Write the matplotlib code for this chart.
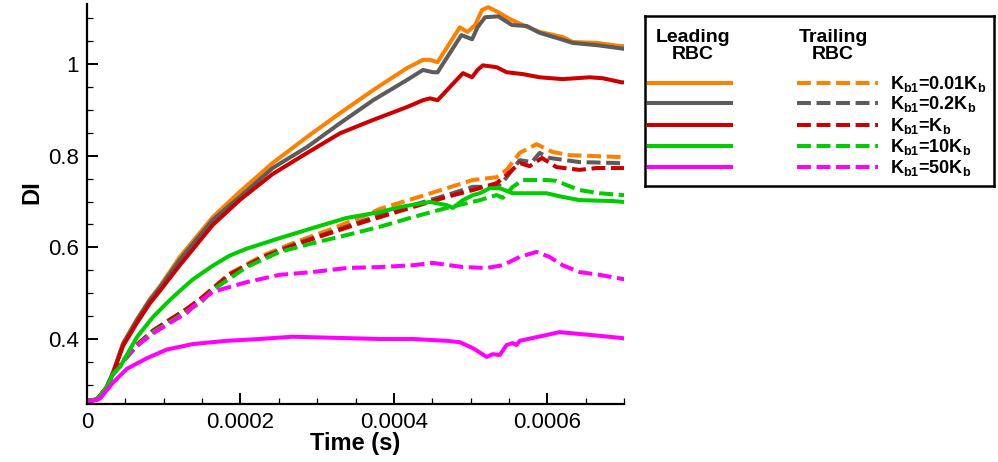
import numpy as np
import matplotlib
matplotlib.use("Agg")
import matplotlib.pyplot as plt
from matplotlib.ticker import FixedLocator, MultipleLocator, FuncFormatter

plt.rcParams['font.family'] = ['Liberation Sans', 'DejaVu Sans']
plt.rcParams['mathtext.fontset'] = 'custom'
plt.rcParams['mathtext.rm'] = 'Liberation Sans'
plt.rcParams['mathtext.bf'] = 'Liberation Sans:bold'

# time in units of 1e-4 s, deformation index DI
# ---- leading RBC (solid) ----
t_lead_001 = [0, 0.13, 0.26, 0.34, 0.47, 0.65, 0.82, 0.95, 1.21, 1.64, 1.99, 2.42, 2.87, 3.30,
              3.73, 4.17, 4.38, 4.47, 4.57, 4.86, 4.96, 5.06, 5.15, 5.23, 5.36, 5.49, 5.68,
              5.90, 6.20, 6.33, 6.65, 6.95, 7.0]
di_lead_001 = [0.265, 0.268, 0.295, 0.328, 0.391, 0.443, 0.487, 0.515, 0.579, 0.666, 0.721, 0.784,
               0.841, 0.893, 0.943, 0.991, 1.009, 1.009, 1.004, 1.080, 1.070, 1.085, 1.118, 1.124,
               1.113, 1.100, 1.085, 1.070, 1.059, 1.048, 1.046, 1.039, 1.039]

t_lead_02 = [0, 0.13, 0.26, 0.34, 0.47, 0.65, 0.82, 0.95, 1.21, 1.64, 1.99, 2.42, 2.87, 3.30,
             3.73, 4.17, 4.38, 4.51, 4.57, 4.88, 5.02, 5.09, 5.19, 5.36, 5.54, 5.73, 5.90,
             6.20, 6.33, 6.65, 6.92, 7.0]
di_lead_02 = [0.265, 0.268, 0.295, 0.327, 0.389, 0.441, 0.485, 0.512, 0.573, 0.660, 0.710, 0.773,
              0.819, 0.871, 0.921, 0.965, 0.987, 0.982, 0.982, 1.063, 1.054, 1.080, 1.102, 1.104,
              1.085, 1.083, 1.068, 1.053, 1.046, 1.041, 1.035, 1.033]

t_lead_1 = [0, 0.13, 0.26, 0.34, 0.47, 0.65, 0.82, 0.95, 1.21, 1.64, 1.99, 2.42, 2.87, 3.30,
            3.73, 4.17, 4.38, 4.47, 4.57, 4.90, 5.02, 5.09, 5.16, 5.34, 5.47, 5.68, 5.90,
            6.20, 6.55, 6.72, 6.97, 7.0]
di_lead_1 = [0.265, 0.268, 0.295, 0.325, 0.385, 0.435, 0.478, 0.505, 0.561, 0.649, 0.703, 0.760,
             0.806, 0.849, 0.878, 0.906, 0.921, 0.925, 0.921, 0.980, 0.971, 0.987, 0.997, 0.993,
             0.982, 0.978, 0.971, 0.967, 0.971, 0.969, 0.960, 0.960]

t_lead_10 = [0, 0.13, 0.26, 0.34, 0.43, 0.65, 0.86, 1.08, 1.21, 1.38, 1.64, 1.86, 2.08, 2.51,
             2.94, 3.38, 3.82, 4.08, 4.47, 4.69, 4.77, 4.90, 5.03, 5.12, 5.25, 5.38, 5.55,
             5.77, 5.99, 6.20, 6.42, 6.85, 7.0]
di_lead_10 = [0.265, 0.268, 0.295, 0.324, 0.339, 0.404, 0.448, 0.485, 0.505, 0.530, 0.560, 0.582,
              0.597, 0.620, 0.642, 0.664, 0.677, 0.688, 0.699, 0.692, 0.686, 0.703, 0.714, 0.718,
              0.729, 0.729, 0.718, 0.718, 0.718, 0.710, 0.703, 0.701, 0.699]

t_lead_50 = [0, 0.08, 0.17, 0.34, 0.52, 0.78, 1.04, 1.38, 1.82, 2.25, 2.68, 3.13, 3.82, 4.25,
             4.69, 4.86, 5.03, 5.21, 5.29, 5.38, 5.47, 5.55, 5.60, 5.64, 5.86, 6.16, 6.42,
             6.68, 6.98, 7.0]
di_lead_50 = [0.265, 0.265, 0.270, 0.305, 0.335, 0.358, 0.377, 0.389, 0.396, 0.400, 0.405, 0.403,
              0.400, 0.400, 0.396, 0.393, 0.380, 0.361, 0.367, 0.365, 0.387, 0.391, 0.387, 0.396,
              0.404, 0.415, 0.411, 0.407, 0.402, 0.401]

# ---- trailing RBC (dashed) ----
t_trail_001 = [0, 0.13, 0.26, 0.34, 0.43, 0.65, 0.86, 1.08, 1.30, 1.50, 1.86, 2.29, 2.74, 3.17,
               3.60, 3.82, 4.25, 4.69, 5.03, 5.34, 5.47, 5.64, 5.86, 6.07, 6.29, 6.64, 6.94, 7.0]
di_trail_001 = [0.265, 0.268, 0.295, 0.326, 0.345, 0.387, 0.418, 0.442, 0.466, 0.491, 0.543, 0.582,
                0.613, 0.639, 0.668, 0.684, 0.706, 0.729, 0.747, 0.753, 0.769, 0.806, 0.825, 0.808,
                0.801, 0.799, 0.797, 0.796]

t_trail_02 = [0, 0.13, 0.26, 0.34, 0.43, 0.65, 0.86, 1.08, 1.30, 1.50, 1.86, 2.29, 2.74, 3.17,
              3.60, 3.82, 4.25, 4.69, 5.03, 5.34, 5.42, 5.64, 5.80, 5.90, 6.03, 6.42, 6.90, 7.0]
di_trail_02 = [0.265, 0.268, 0.295, 0.326, 0.345, 0.387, 0.418, 0.442, 0.465, 0.490, 0.541, 0.579,
               0.609, 0.633, 0.658, 0.670, 0.692, 0.714, 0.732, 0.732, 0.742, 0.790, 0.786, 0.806,
               0.795, 0.786, 0.784, 0.783]

t_trail_1 = [0, 0.13, 0.26, 0.34, 0.43, 0.65, 0.86, 1.08, 1.30, 1.50, 1.86, 2.29, 2.74, 3.17,
             3.60, 3.82, 4.25, 4.69, 5.03, 5.34, 5.47, 5.64, 5.77, 5.93, 6.12, 6.42, 6.64, 7.0]
di_trail_1 = [0.265, 0.268, 0.295, 0.326, 0.345, 0.387, 0.418, 0.442, 0.465, 0.490, 0.541, 0.578,
              0.607, 0.631, 0.655, 0.666, 0.688, 0.710, 0.725, 0.740, 0.758, 0.784, 0.777, 0.795,
              0.775, 0.769, 0.773, 0.773]

t_trail_10 = [0, 0.13, 0.26, 0.34, 0.43, 0.65, 0.86, 1.08, 1.30, 1.50, 1.64, 2.08, 2.51, 2.94,
              3.39, 3.82, 4.25, 4.69, 5.12, 5.34, 5.42, 5.55, 5.68, 5.86, 5.99, 6.12, 6.25,
              6.42, 6.68, 6.98, 7.0]
di_trail_10 = [0.265, 0.268, 0.295, 0.326, 0.342, 0.385, 0.415, 0.437, 0.460, 0.482, 0.507, 0.557,
               0.590, 0.609, 0.627, 0.645, 0.666, 0.686, 0.703, 0.714, 0.708, 0.732, 0.747, 0.747,
               0.747, 0.745, 0.736, 0.725, 0.718, 0.714, 0.714]

t_trail_50 = [0, 0.13, 0.26, 0.34, 0.52, 0.65, 0.86, 1.08, 1.30, 1.38, 1.64, 2.08, 2.51, 2.94,
              3.39, 3.82, 4.25, 4.51, 4.90, 5.21, 5.42, 5.64, 5.86, 6.03, 6.20, 6.42, 6.68,
              6.98, 7.0]
di_trail_50 = [0.265, 0.268, 0.293, 0.322, 0.362, 0.385, 0.412, 0.435, 0.457, 0.470, 0.503, 0.524,
               0.540, 0.546, 0.555, 0.557, 0.561, 0.566, 0.557, 0.555, 0.561, 0.579, 0.590, 0.579,
               0.561, 0.546, 0.540, 0.531, 0.531]

colors = ['#ff8000', '#5c5c5c', '#cc0000', '#00cc00', '#ff00ff']
labels = [r'K$_{\mathbf{b1}}$=0.01K$_{\mathbf{b}}$',
          r'K$_{\mathbf{b1}}$=0.2K$_{\mathbf{b}}$',
          r'K$_{\mathbf{b1}}$=K$_{\mathbf{b}}$',
          r'K$_{\mathbf{b1}}$=10K$_{\mathbf{b}}$',
          r'K$_{\mathbf{b1}}$=50K$_{\mathbf{b}}$']

leading = [(t_lead_001, di_lead_001), (t_lead_02, di_lead_02), (t_lead_1, di_lead_1),
           (t_lead_10, di_lead_10), (t_lead_50, di_lead_50)]
trailing = [(t_trail_001, di_trail_001), (t_trail_02, di_trail_02), (t_trail_1, di_trail_1),
            (t_trail_10, di_trail_10), (t_trail_50, di_trail_50)]

lw = 2.9
dash = (0, (3.45, 1.4))

fig = plt.figure(figsize=(9.98, 4.62), dpi=100)
ax = fig.add_axes([87 / 998, 58 / 462, 537 / 998, 400 / 462])

for (t, d), c in zip(trailing, colors):
    ax.plot(np.array(t) * 1e-4, d, color=c, lw=lw, linestyle=dash)
for (t, d), c in zip(leading, colors):
    ax.plot(np.array(t) * 1e-4, d, color=c, lw=lw, solid_capstyle='round')

ax.set_xlim(0, 0.0007)
ax.set_ylim(0.2582, 1.1309)
ax.xaxis.set_major_locator(FixedLocator([0, 0.0002, 0.0004, 0.0006]))
ax.xaxis.set_minor_locator(MultipleLocator(0.00005))
ax.yaxis.set_major_locator(FixedLocator([0.4, 0.6, 0.8, 1.0]))
ax.yaxis.set_minor_locator(MultipleLocator(0.05))
ax.xaxis.set_major_formatter(FuncFormatter(lambda v, p: '0' if abs(v) < 1e-12 else f'{v:.4f}'))
ax.yaxis.set_major_formatter(FuncFormatter(lambda v, p: f'{v:g}'))

for side in ['top', 'right']:
    ax.spines[side].set_visible(False)
for side in ['left', 'bottom']:
    ax.spines[side].set_linewidth(1.6)
ax.tick_params(which='major', direction='in', length=8, width=1.4, labelsize=16, pad=6)
ax.tick_params(which='minor', direction='in', length=4.5, width=0.9)

ax.set_xlabel('Time (s)', fontsize=17, fontweight='bold')
ax.set_ylabel('DI', fontsize=17, fontweight='bold')
ax.xaxis.set_label_coords(0.5, -0.07)
ax.yaxis.set_label_coords(-0.081, 0.53)

# legend panel, laid out in pixel units of its own box
lax = fig.add_axes([645 / 998, 1 - 186 / 462, 349 / 998, 170 / 462])
lax.set_xlim(0, 349)
lax.set_ylim(170, 0)
lax.set_xticks([])
lax.set_yticks([])
for s in lax.spines.values():
    s.set_linewidth(1.8)

lax.text(48, 30, 'Leading\nRBC', ha='center', va='center', fontsize=14,
         fontweight='bold', linespacing=1.0)
lax.text(188, 30, 'Trailing\nRBC', ha='center', va='center', fontsize=14,
         fontweight='bold', linespacing=1.0)
row_y = [67, 87, 109, 130, 151]
for yy, c, lab in zip(row_y, colors, labels):
    lax.plot([4, 86], [yy, yy], color=c, lw=lw)
    lax.plot([152, 233], [yy, yy], color=c, lw=lw, linestyle=dash)
    lax.text(245, yy + 1, lab, ha='left', va='center', fontsize=13, fontweight='bold')

fig.savefig('out.png', dpi=100)
